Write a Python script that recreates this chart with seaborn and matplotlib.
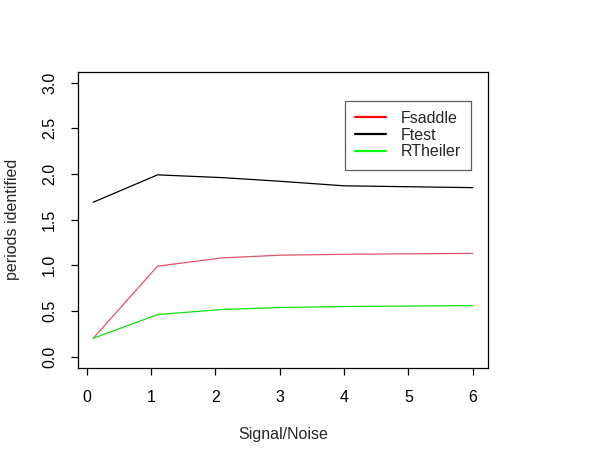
import matplotlib
matplotlib.use("Agg")
import matplotlib.pyplot as plt
from matplotlib.lines import Line2D
import seaborn as sns
import pandas as pd

snr = [0.1, 1.1, 2.1, 3.0, 4.0, 6.0]
fsaddle = [0.20, 0.99, 1.08, 1.11, 1.12, 1.13]
ftest = [1.69, 1.99, 1.96, 1.92, 1.87, 1.85]
rtheiler = [0.20, 0.46, 0.515, 0.537, 0.548, 0.558]
methods = ["Fsaddle", "Ftest", "RTheiler"]
line_colors = {"Fsaddle": "#E0536B", "Ftest": "#000000", "RTheiler": "#11E011"}
legend_colors = ["#FF0000", "#000000", "#00FF00"]
xticks = [0, 1, 2, 3, 4, 5, 6]
yticks = [0.0, 0.5, 1.0, 1.5, 2.0, 2.5, 3.0]

df = pd.concat([
    pd.DataFrame({"snr": snr, "val": fsaddle, "method": "Fsaddle"}),
    pd.DataFrame({"snr": snr, "val": ftest, "method": "Ftest"}),
    pd.DataFrame({"snr": snr, "val": rtheiler, "method": "RTheiler"}),
])

sns.set_style("white")
plt.rcParams["font.family"] = ["Liberation Sans", "DejaVu Sans"]
fs = 11.5

fig = plt.figure(figsize=(6.08, 4.57), dpi=100)
ax = fig.add_axes([78 / 608, 1 - 367.5 / 457, 410 / 608, 295.8 / 457])
sns.lineplot(data=df, x="snr", y="val", hue="method", hue_order=methods,
             palette=line_colors, linewidth=0.9, legend=False, ax=ax,
             estimator=None, sort=False)

ax.set_xlim(-0.136, 6.236)
ax.set_ylim(-0.12, 3.12)
ax.set_xticks(xticks)
ax.set_xticklabels([str(t) for t in xticks])
ax.set_yticks(yticks)
ax.set_yticklabels([f"{t:.1f}" for t in yticks], rotation=90, va="center")
for s in ax.spines.values():
    s.set_color("black")
    s.set_linewidth(0.9)
ax.tick_params(axis="both", direction="out", length=5, width=0.9, color="black",
               labelsize=fs, labelcolor="black", bottom=True, left=True)
ax.tick_params(axis="x", pad=11)
ax.tick_params(axis="y", pad=10)
ax.set_xlabel("Signal/Noise", fontsize=fs, labelpad=16)
ax.set_ylabel("periods identified", fontsize=fs, labelpad=16)

handles = [Line2D([0], [0], color=c, lw=1.6) for c in legend_colors]
leg = ax.legend(handles, methods, loc="upper left", bbox_to_anchor=(0.651, 0.902),
                borderaxespad=0, fontsize=fs, frameon=True, fancybox=False,
                edgecolor="#333333", handlelength=1.95, handletextpad=0.9,
                labelspacing=0.1, borderpad=0.65)
leg.get_frame().set_linewidth(0.9)

fig.savefig("out.png", dpi=100)
